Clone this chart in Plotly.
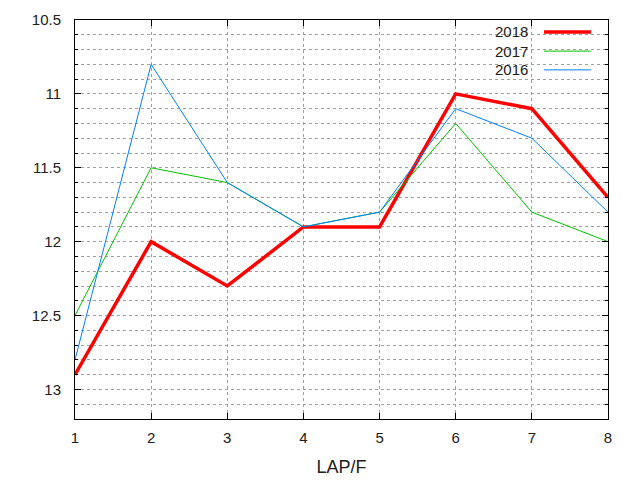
import plotly.graph_objects as go

# === DATOS ===
laps = [1, 2, 3, 4, 5, 6, 7, 8]
y2018 = [12.9, 12.0, 12.3, 11.9, 11.9, 11.0, 11.1, 11.7]
y2017 = [12.5, 11.5, 11.6, 11.9, 11.8, 11.2, 11.8, 12.0]
y2016 = [12.8, 10.8, 11.6, 11.9, 11.8, 11.1, 11.3, 11.8]

series = [
    ('2018', y2018, '#ff0000', 3.5),
    ('2017', y2017, '#00c000', 1),
    ('2016', y2016, '#0080ff', 1),
]

fig = go.Figure()
for name, vals, color, width in series:
    fig.add_trace(go.Scatter(
        x=laps, y=vals, mode='lines', name=name,
        line=dict(color=color, width=width), showlegend=False
    ))

# leyenda estilo gnuplot: texto a la izquierda, muestra de linea a la derecha
fig.add_shape(type='rect', xref='paper', yref='paper',
              x0=0.779, x1=0.981, y0=0.850, y1=0.995,
              fillcolor='white', line=dict(width=0), layer='below')
row_y = [0.970, 0.922, 0.875]
for (name, vals, color, width), yy in zip(series, row_y):
    fig.add_annotation(x=0.854, y=yy, xref='paper', yref='paper', text=name,
                       showarrow=False, xanchor='right', yanchor='middle',
                       font=dict(size=15))
    fig.add_shape(type='line', xref='paper', yref='paper',
                  x0=0.880, x1=0.968, y0=yy, y1=yy,
                  line=dict(color=color, width=width))

grid = '#a0a0a0'
fig.update_layout(
    width=640, height=480,
    margin=dict(l=67, r=40, t=12, b=69, autoexpand=False),
    paper_bgcolor='white', plot_bgcolor='white',
    font=dict(family='Liberation Sans, Arial, sans-serif', size=15, color='#202020'),
    xaxis=dict(
        range=[1, 8], tickvals=laps, title=dict(text='LAP/F', standoff=15),
        automargin=False,
        showline=True, linecolor='black', linewidth=1, mirror='ticks',
        ticks='inside', ticklen=6, tickcolor='black', ticklabelstandoff=5,
        showgrid=True, gridcolor=grid, griddash='dot', gridwidth=1,
        zeroline=False
    ),
    yaxis=dict(
        range=[13.2, 10.5], tickvals=[10.5, 11, 11.5, 12, 12.5, 13],
        ticktext=['10.5', '11', '11.5', '12', '12.5', '13'],
        automargin=False,
        showline=True, linecolor='black', linewidth=1, mirror='ticks',
        ticks='inside', ticklen=6, tickcolor='black', ticklabelstandoff=10,
        showgrid=True, gridcolor=grid, griddash='dot', gridwidth=1,
        minor=dict(dtick=0.1, tick0=10.5, showgrid=True, gridcolor=grid,
                   griddash='dot', gridwidth=1, ticks='inside', ticklen=3,
                   tickcolor='black'),
        zeroline=False
    ),
)

fig.write_html("out.html")
